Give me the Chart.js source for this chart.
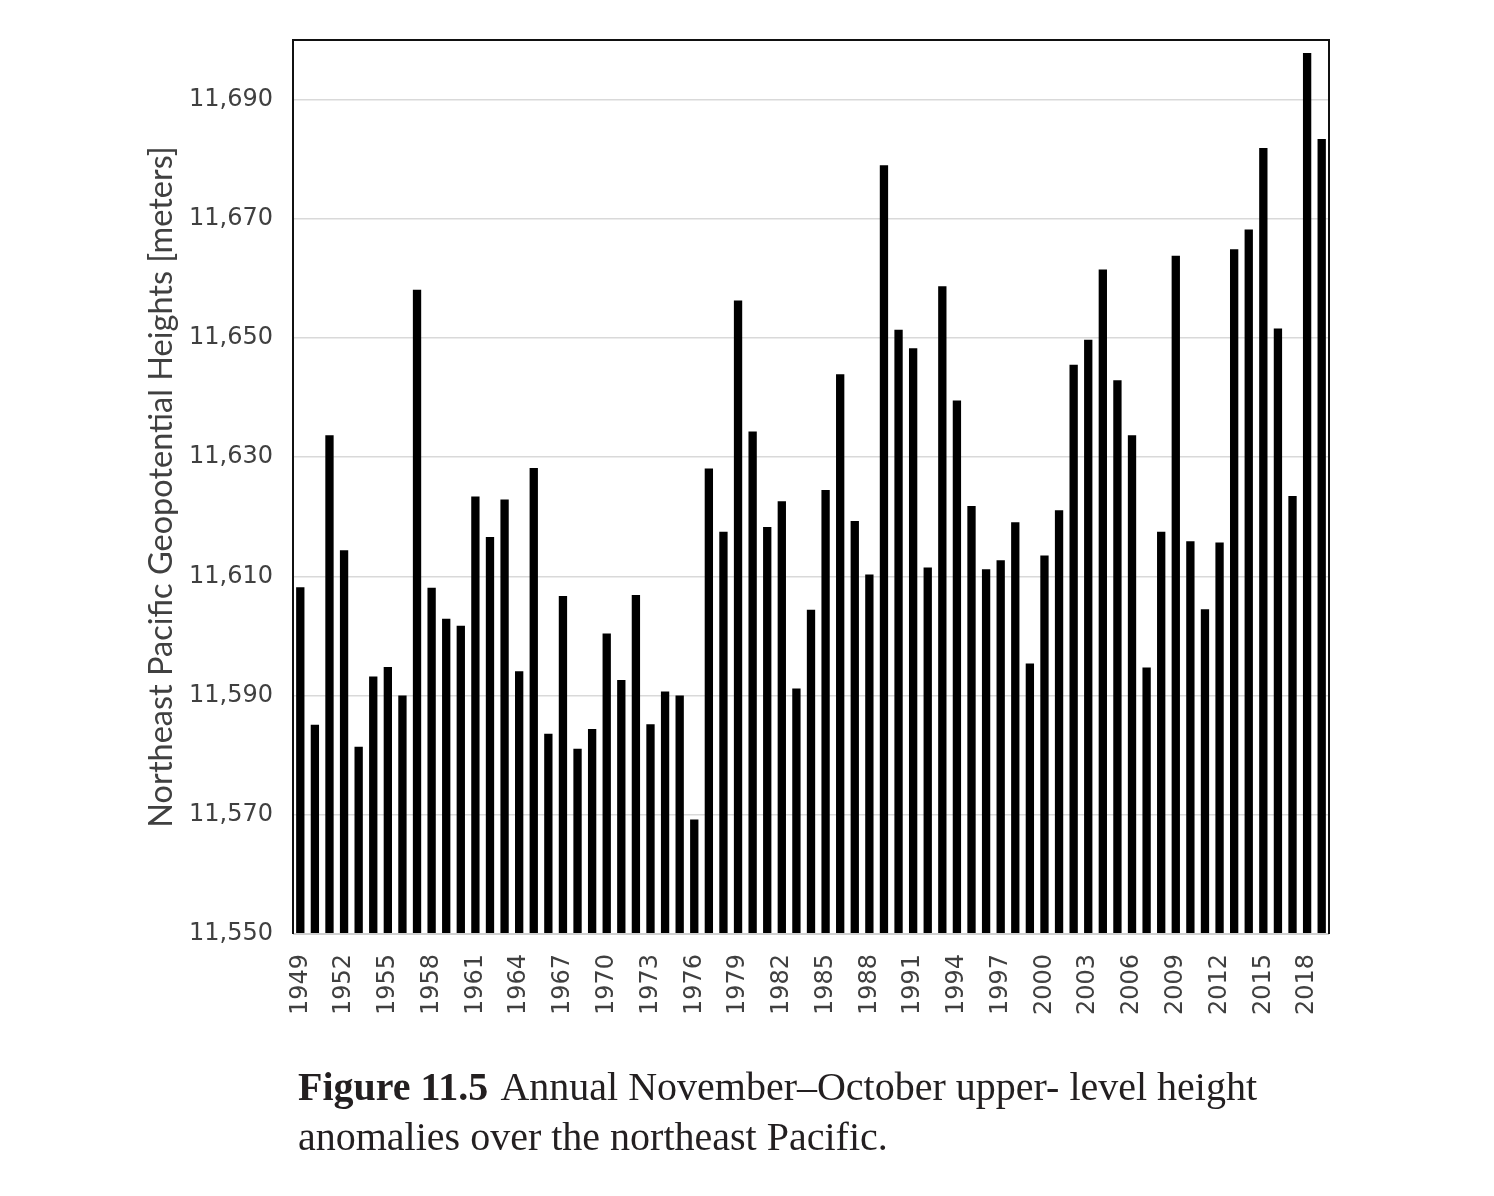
<!DOCTYPE html>
<html>
<head>
<meta charset="utf-8">
<script src="https://cdn.jsdelivr.net/npm/chart.js@4"></script>
<style>
  html, body { margin: 0; padding: 0; background: #fff; }
  #wrap { position: relative; width: 1494px; height: 1196px; }
  #c { position: absolute; left: 0; top: 0; }
  #caption {
    position: absolute; left: 298px; top: 1062px; width: 1150px;
    font-family: "Liberation Serif", "DejaVu Serif", serif;
    font-size: 40px; line-height: 50px; color: #231f20;
  }
  #caption b { font-weight: bold; margin-right: 12px; }
</style>
</head>
<body>
<div id="wrap">
  <canvas id="c" width="1494" height="1196"></canvas>
  <div id="caption"><b>Figure 11.5</b>Annual November–October upper- level height<br>anomalies over the northeast Pacific.</div>
</div>
<script>
const years = [
  1949,1950,1951,1952,1953,1954,1955,1956,1957,1958,
  1959,1960,1961,1962,1963,1964,1965,1966,1967,1968,
  1969,1970,1971,1972,1973,1974,1975,1976,1977,1978,
  1979,1980,1981,1982,1983,1984,1985,1986,1987,1988,
  1989,1990,1991,1992,1993,1994,1995,1996,1997,1998,
  1999,2000,2001,2002,2003,2004,2005,2006,2007,2008,
  2009,2010,2011,2012,2013,2014,2015,2016,2017,2018,2019
];
const heights = [
  11608.2,11585.1,11633.7,11614.4,11581.4,11593.2,11594.8,11590.0,11658.1,11608.1,
  11602.9,11601.7,11623.4,11616.6,11622.9,11594.1,11628.2,11583.6,11606.7,11581.1,
  11584.4,11600.4,11592.6,11606.9,11585.2,11590.7,11590.0,11569.2,11628.1,11617.5,
  11656.3,11634.3,11618.3,11622.6,11591.2,11604.4,11624.5,11643.9,11619.3,11610.3,
  11679.0,11651.4,11648.3,11611.5,11658.7,11639.5,11621.8,11611.2,11612.7,11619.1,
  11595.4,11613.5,11621.1,11645.5,11649.7,11661.5,11642.9,11633.7,11594.7,11617.5,
  11663.8,11615.9,11604.5,11615.7,11664.9,11668.2,11681.9,11651.6,11623.5,11697.8,11683.4
];
const yTicks = [11550,11570,11590,11610,11630,11650,11670,11690];
const yMin = 11550, yMax = 11700;
const labelEvery = 3;
const yTitle = 'Northeast Pacific Geopotential Heights [meters]';

const frame = {
  id: 'frame',
  afterDraw(chart) {
    const {ctx, chartArea: a} = chart;
    ctx.save();
    ctx.strokeStyle = '#cfcfcf';
    ctx.lineWidth = 2;
    ctx.beginPath(); ctx.moveTo(a.left, a.bottom); ctx.lineTo(a.right, a.bottom); ctx.stroke();
    ctx.strokeStyle = '#111';
    ctx.lineWidth = 2;
    ctx.beginPath();
    ctx.moveTo(a.left, a.bottom); ctx.lineTo(a.left, a.top);
    ctx.lineTo(a.right, a.top); ctx.lineTo(a.right, a.bottom);
    ctx.stroke();
    ctx.restore();
  }
};

new Chart(document.getElementById('c'), {
  type: 'bar',
  data: {
    labels: years.map(String),
    datasets: [{
      data: heights,
      backgroundColor: '#000',
      borderWidth: 0,
      barPercentage: 0.57,
      categoryPercentage: 1.0
    }]
  },
  options: {
    responsive: false,
    animation: false,
    devicePixelRatio: 1,
    layout: { padding: { left: 140, top: 40, right: 165, bottom: 162 } },
    plugins: { legend: { display: false }, tooltip: { enabled: false } },
    scales: {
      x: {
        offset: true,
        grid: { display: false, drawTicks: false },
        border: { display: false },
        afterFit(s) { s.height = 100; },
        ticks: {
          autoSkip: false,
          maxRotation: 90, minRotation: 90,
          padding: 20,
          color: '#404040',
          font: { family: 'DejaVu Sans', size: 24 },
          callback(v, i) { return i % labelEvery === 0 ? String(years[i]) : ''; }
        }
      },
      y: {
        min: yMin, max: yMax,
        afterBuildTicks(s) { s.ticks = yTicks.map(v => ({ value: v })); },
        afterFit(s) { s.width = 153; },
        grid: { color: '#d9d9d9', lineWidth: 1.5, drawTicks: false },
        border: { display: false },
        ticks: {
          padding: 20,
          color: '#404040',
          font: { family: 'DejaVu Sans', size: 24 },
          callback(v) { return Number(v).toLocaleString('en-US'); }
        },
        title: {
          display: true,
          text: yTitle,
          color: '#404040',
          padding: { top: 2, bottom: 4 },
          font: { family: 'Lato', size: 32.5 }
        }
      }
    }
  },
  plugins: [frame]
});
</script>
</body>
</html>
